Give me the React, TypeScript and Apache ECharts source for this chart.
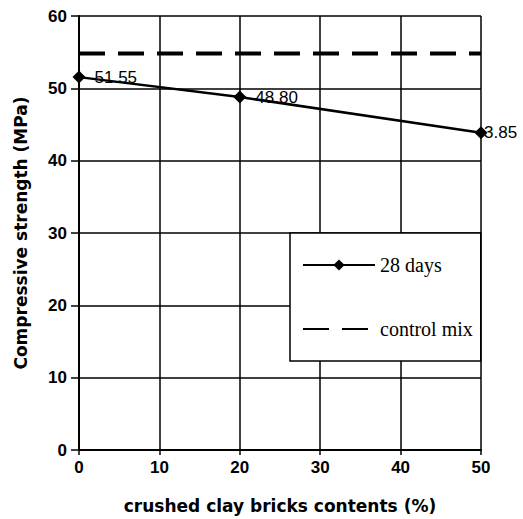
import React, { useEffect, useRef } from "react";
import * as echarts from "echarts";

const xValues = [0, 20, 50];
const strength28 = [51.55, 48.8, 43.85];
const pointLabels = ["51.55", "48.80", "3.85"];
const labelDistances = [9, 9, -3.5];
const controlX = [0, 50];
const controlValue = 54.8;
const seriesNames = ["28 days", "control mix"];
const xTitle = "crushed clay bricks contents (%)";
const yTitle = "Compressive strength (MPa)";

export default function App() {
  const ref = useRef<HTMLDivElement>(null);
  useEffect(() => {
    if (!ref.current) return;
    const chart = echarts.init(ref.current, null, { renderer: "svg" });
    const sans = "'Liberation Sans', Arial, sans-serif";
    const serif = "'Liberation Serif', 'Times New Roman', serif";
    const titleFont = "'DejaVu Sans', sans-serif";
    chart.setOption({
      animation: false,
      backgroundColor: "#fff",
      grid: { left: 79, right: 42, top: 16, bottom: 62, containLabel: false },
      legend: {
        data: [
          { name: seriesNames[0] },
          { name: seriesNames[1], itemStyle: { opacity: 0 } },
        ],
        orient: "vertical",
        left: 290,
        top: 233,
        padding: [22, 8, 22, 12],
        itemGap: 44,
        itemWidth: 72,
        itemHeight: 14,
        backgroundColor: "#fff",
        borderColor: "#000",
        borderWidth: 1.5,
        borderRadius: 0,
        textStyle: { fontFamily: serif, fontSize: 20, color: "#000" },
      },
      xAxis: {
        type: "value",
        min: 0,
        max: 50,
        interval: 10,
        name: xTitle,
        nameLocation: "middle",
        nameGap: 47,
        nameTextStyle: { fontFamily: titleFont, fontWeight: "bold", fontSize: 17, color: "#000" },
        axisLine: { lineStyle: { color: "#000", width: 2 } },
        axisTick: { show: true, length: 5, lineStyle: { color: "#000", width: 1.5 } },
        axisLabel: { fontFamily: sans, fontWeight: "bold", fontSize: 17, color: "#000", margin: 9 },
        splitLine: { show: true, lineStyle: { color: "#000", width: 1.5 } },
      },
      yAxis: {
        type: "value",
        min: 0,
        max: 60,
        interval: 10,
        name: yTitle,
        nameLocation: "middle",
        nameGap: 50,
        nameRotate: 90,
        nameTextStyle: { fontFamily: titleFont, fontWeight: "bold", fontSize: 17, color: "#000" },
        axisLine: { show: true, lineStyle: { color: "#000", width: 2 } },
        axisTick: { show: true, length: 8, lineStyle: { color: "#000", width: 1.5 } },
        axisLabel: { fontFamily: sans, fontWeight: "bold", fontSize: 17, color: "#000", margin: 12 },
        splitLine: { show: true, lineStyle: { color: "#000", width: 1.5 } },
      },
      series: [
        {
          name: seriesNames[0],
          type: "line",
          data: xValues.map((x, i) => ({
            value: [x, strength28[i]],
            label: { distance: labelDistances[i] },
          })),
          symbol: "diamond",
          symbolSize: 13,
          lineStyle: { color: "#000", width: 2.5 },
          itemStyle: { color: "#000" },
          label: {
            show: true,
            position: "right",
            fontFamily: sans,
            fontSize: 17,
            color: "#000",
            formatter: (p: any) => pointLabels[p.dataIndex],
          },
          z: 3,
        },
        {
          name: seriesNames[1],
          type: "line",
          data: controlX.map((x) => [x, controlValue]),
          symbol: "none",
          lineStyle: { color: "#000", width: 4, type: [26, 13] },
          itemStyle: { color: "#000" },
          z: 3,
        },
      ],
    });
    return () => chart.dispose();
  }, []);
  return (
    <div
      ref={ref}
      style={{ position: "fixed", left: 0, top: 0, width: 523, height: 519, background: "#fff" }}
    />
  );
}
